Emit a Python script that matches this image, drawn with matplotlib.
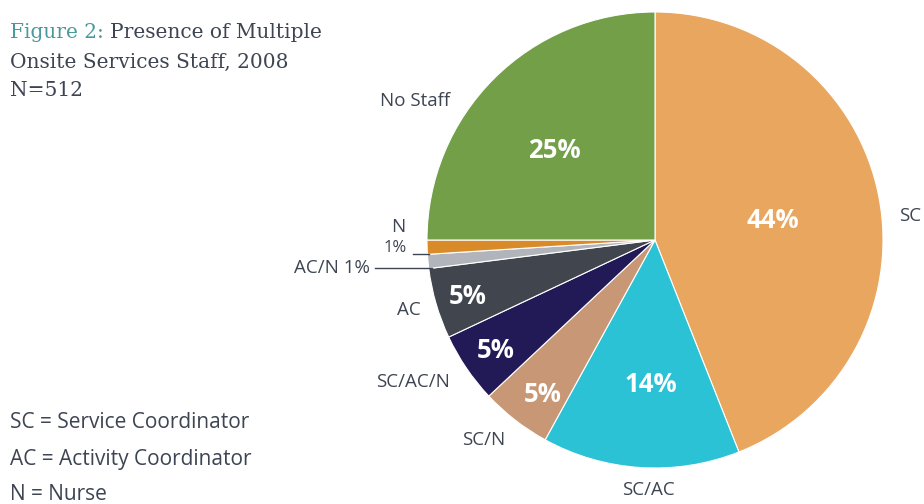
import matplotlib
matplotlib.use('Agg')
import matplotlib.pyplot as plt

# slice data, clockwise from 12 o'clock
categories = ['SC', 'SC/AC', 'SC/N', 'SC/AC/N', 'AC', 'AC/N', 'N', 'No Staff']
shares = [44, 14, 5, 5, 5, 1, 1, 25]
colors = ['#E9A65E', '#2CC2D6', '#C79776', '#211A56', '#41454E', '#B1B4BB', '#D98B2A', '#729F48']
legend_lines = ['SC = Service Coordinator', 'AC = Activity Coordinator', 'N = Nurse']

W, H = 924, 504
fig = plt.figure(figsize=(W / 100, H / 100), dpi=100)

cx, cy, r = 655, 240, 228
ax = fig.add_axes([(cx - r) / W, (H - cy - r) / H, 2 * r / W, 2 * r / H])
ax.pie(shares, colors=colors, startangle=90, counterclock=False, radius=1,
       wedgeprops=dict(edgecolor='white', linewidth=0.8))
ax.set_xlim(-1, 1)
ax.set_ylim(-1, 1)
ax.set_aspect('equal')
ax.axis('off')

dark = '#3D4452'
lab_fs = 13.5

def px(x, y):
    # pixel coords -> figure fraction
    return x / W, 1 - y / H

# inside percentages (big white bold)
inside = {'SC': (773, 220), 'SC/AC': (651, 385), 'SC/N': (543, 395),
          'SC/AC/N': (496, 350), 'AC': (468, 297), 'No Staff': (554, 150)}
for cat, pos in inside.items():
    v = shares[categories.index(cat)]
    fig.text(*px(*pos), f'{v}%', ha='center', va='center', color='white',
             fontsize=18.5, fontweight='bold', family='Open Sans')

# outside category labels
outside = {'No Staff': (415, 101), 'SC/AC': (648, 490), 'SC/N': (484, 440),
           'SC/AC/N': (413, 382), 'AC': (409, 310), 'N': (398, 227)}
for cat, pos in outside.items():
    fig.text(*px(*pos), cat, ha='center', va='center', color=dark,
             fontsize=lab_fs, family='Open Sans')
fig.text(*px(899, 216), 'SC', ha='left', va='center', color=dark,
         fontsize=lab_fs, family='Open Sans')
fig.text(*px(395, 248), f"{shares[categories.index('N')]}%", ha='center', va='center',
         color=dark, fontsize=12, family='Open Sans')
fig.text(*px(370, 268), f"AC/N {shares[categories.index('AC/N')]}%", ha='right', va='center',
         color=dark, fontsize=lab_fs, family='Open Sans')

# leader lines
fig.add_artist(plt.Line2D([413 / W, 429 / W], [1 - 254 / H, 1 - 254 / H], color=dark, lw=1))
fig.add_artist(plt.Line2D([375 / W, 432 / W], [1 - 268 / H, 1 - 268 / H], color=dark, lw=1))

# title
tfs = 14.5
t1 = fig.text(*px(10, 33), 'Figure 2:', ha='left', va='center', color='#4A9A9D',
              fontsize=tfs, family='DejaVu Serif')
fig.canvas.draw()
x1 = t1.get_window_extent().x1
fig.text((x1 + 6) / W, 1 - 33 / H, 'Presence of Multiple', ha='left', va='center', color=dark,
         fontsize=tfs, family='DejaVu Serif')
fig.text(*px(10, 62), 'Onsite Services Staff, 2008', ha='left', va='center', color=dark,
         fontsize=tfs, family='DejaVu Serif')
fig.text(*px(10, 90), 'N=512', ha='left', va='center', color=dark,
         fontsize=tfs, family='DejaVu Serif')

# abbreviation key
for i, line in enumerate(legend_lines):
    fig.text(*px(10, 423 + i * 36), line, ha='left', va='center', color=dark,
             fontsize=15, family='Open Sans')

fig.savefig('out.png', dpi=100)
